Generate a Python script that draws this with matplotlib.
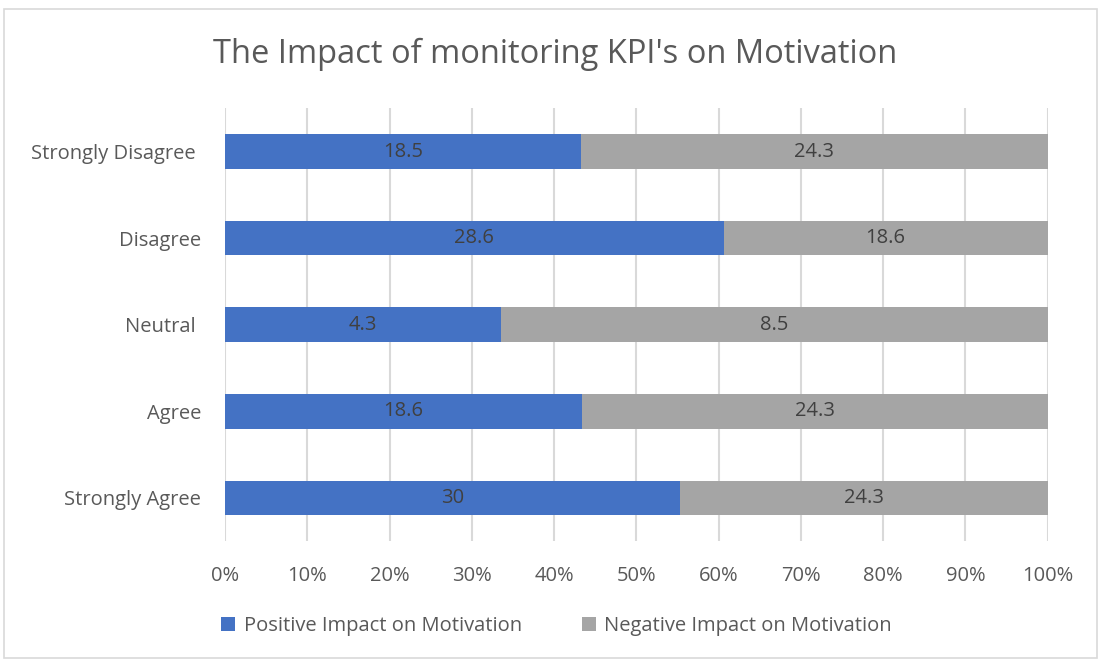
import numpy as np
import matplotlib.pyplot as plt
from matplotlib.patches import Rectangle

# data (top to bottom)
categories = ["Strongly Disagree ", "Disagree", "Neutral ", "Agree", "Strongly Agree"]
positive = [18.5, 28.6, 4.3, 18.6, 30]
negative = [24.3, 18.6, 8.5, 24.3, 24.3]
positive_labels = ["18.5", "28.6", "4.3", "18.6", "30"]
negative_labels = ["24.3", "18.6", "8.5", "24.3", "24.3"]

BLUE = "#4472C4"
GRAY = "#A5A5A5"
TEXT = "#595959"

plt.rcParams['font.family'] = ['Open Sans', 'DejaVu Sans']

pos = np.array(positive, dtype=float)
neg = np.array(negative, dtype=float)
total = pos + neg
pos_pct = pos / total
neg_pct = neg / total

fig = plt.figure(figsize=(11, 6.6), dpi=100)
ax = fig.add_axes([0.2045, 0.180, 0.748, 0.656])

y = np.arange(len(categories))[::-1]
bar_h = 0.40
ax.barh(y, pos_pct, height=bar_h, color=BLUE, label="Positive Impact on Motivation", zorder=3)
ax.barh(y, neg_pct, left=pos_pct, height=bar_h, color=GRAY, label="Negative Impact on Motivation", zorder=3)

for yi, p, n, pl, nl in zip(y, pos_pct, neg_pct, positive_labels, negative_labels):
    ax.text(p / 2, yi, pl, ha="center", va="center", fontsize=14.5, color="#404040", zorder=4)
    ax.text(p + n / 2, yi, nl, ha="center", va="center", fontsize=14.5, color="#404040", zorder=4)

ax.set_xlim(0, 1)
ax.set_ylim(-0.5, len(categories) - 0.5)
ax.set_xticks(np.linspace(0, 1, 11))
ax.set_xticklabels([f"{int(v)}%" for v in np.linspace(0, 100, 11)])
ax.set_yticks(y)
ax.set_yticklabels(categories)
ax.tick_params(axis="both", length=0, labelsize=14.5, colors=TEXT)
ax.tick_params(axis="x", pad=18)
ax.tick_params(axis="y", pad=17)
ax.grid(axis="x", color="#D9D9D9", linewidth=1.5, zorder=0)
for s in ax.spines.values():
    s.set_visible(False)

fig.text(0.505, 0.918, "The Impact of monitoring KPI's on Motivation",
         ha="center", va="center", fontsize=23.5, color=TEXT)

leg = fig.legend(loc="center", bbox_to_anchor=(0.506, 0.051), ncol=2, frameon=False,
                 fontsize=14.5, handlelength=0.7, handleheight=0.7, columnspacing=3.0,
                 handletextpad=0.4, labelcolor=TEXT)

# outer chart border
fig.patches.append(Rectangle((0.004, 0.003), 0.993, 0.983, transform=fig.transFigure,
                             fill=False, edgecolor="#D9D9D9", linewidth=1.2))

fig.savefig("out.png", dpi=100)
